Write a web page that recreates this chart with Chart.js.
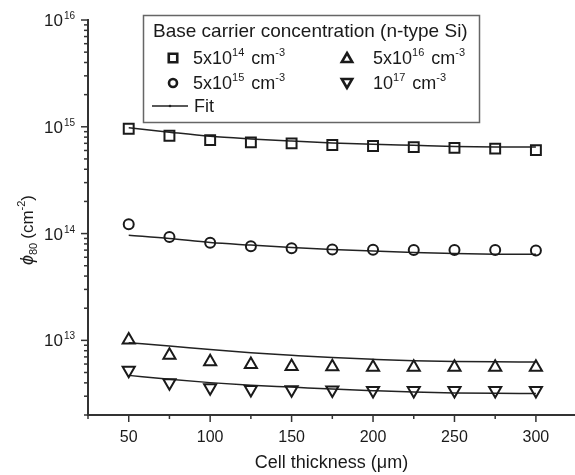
<!DOCTYPE html>
<html>
<head>
<meta charset="utf-8">
<script src="https://cdn.jsdelivr.net/npm/chart.js@4/dist/chart.umd.min.js"></script>
<style>
  html, body { margin: 0; padding: 0; background: #fff; }
  #wrap { width: 575px; height: 475px; }
</style>
</head>
<body>
<div id="wrap"><canvas id="phi-graph" width="575" height="475"></canvas></div>
<script>
// --< Data >--
const thickness = [50, 75, 100, 125, 150, 175, 200, 225, 250, 275, 300];

// measured phi80 (cm^-2) per base carrier concentration
const phi_5e14 = [9.6e14, 8.25e14, 7.5e14, 7.15e14, 7.0e14, 6.75e14, 6.6e14, 6.45e14, 6.35e14, 6.25e14, 6.05e14];
const phi_5e15 = [1.22e14, 9.3e13, 8.2e13, 7.6e13, 7.3e13, 7.1e13, 7.05e13, 7.0e13, 7.0e13, 7.0e13, 6.95e13];
const phi_5e16 = [1.01e13, 7.25e12, 6.3e12, 5.95e12, 5.7e12, 5.65e12, 5.6e12, 5.6e12, 5.6e12, 5.6e12, 5.6e12];
const phi_1e17 = [5.25e12, 4.0e12, 3.6e12, 3.47e12, 3.45e12, 3.42e12, 3.4e12, 3.4e12, 3.4e12, 3.4e12, 3.4e12];

// fit curves
const fit_5e14 = [9.8e14, 8.9e14, 8.15e14, 7.7e14, 7.35e14, 7.05e14, 6.85e14, 6.7e14, 6.55e14, 6.47e14, 6.45e14];
const fit_5e15 = [9.65e13, 9.0e13, 8.25e13, 7.8e13, 7.4e13, 7.1e13, 6.85e13, 6.65e13, 6.5e13, 6.42e13, 6.4e13];
const fit_5e16 = [9.5e12, 8.85e12, 8.2e12, 7.65e12, 7.25e12, 6.9e12, 6.65e12, 6.45e12, 6.35e12, 6.3e12, 6.28e12];
const fit_1e17 = [4.7e12, 4.32e12, 4.02e12, 3.8e12, 3.65e12, 3.5e12, 3.38e12, 3.28e12, 3.22e12, 3.19e12, 3.18e12];

// axes
const xTickValues = [25, 50, 75, 100, 125, 150, 175, 200, 225, 250, 275, 300];
const xTickLabels = [50, 100, 150, 200, 250, 300];
const yDecades = [12, 13, 14, 15, 16];
// --</ Data >--

const FONT = '"Liberation Sans", Arial, sans-serif';
const INK = '#1a1a1a';

const pts = (ys) => thickness.map((x, i) => ({ x: x, y: ys[i] }));

function markerSet(label, ys, style, radius, rotation) {
  return {
    label: label,
    data: pts(ys),
    showLine: false,
    pointStyle: style,
    pointRadius: radius,
    pointRotation: rotation || 0,
    pointBorderWidth: 2,
    pointBorderColor: INK,
    pointBackgroundColor: 'rgba(0,0,0,0)'
  };
}

function fitSet(ys) {
  return {
    label: 'Fit',
    data: pts(ys),
    showLine: true,
    borderColor: '#222',
    borderWidth: 1.5,
    cubicInterpolationMode: 'monotone',
    pointRadius: 0
  };
}

// --< Custom drawing: ticks, superscript labels, legend >--
function drawSup(ctx, x, y, parts) {
  // parts: [text, size, dy, gapAfter]
  for (const p of parts) {
    ctx.font = `${p[1]}px ${FONT}`;
    ctx.fillText(p[0], x, y + p[2]);
    x += ctx.measureText(p[0]).width + (p[3] || 0);
  }
  return x;
}

function partsWidth(ctx, parts) {
  let w = 0;
  for (const p of parts) { ctx.font = `${p[1]}px ${FONT}`; w += ctx.measureText(p[0]).width + (p[3] || 0); }
  return w;
}

const decor = {
  id: 'decor',
  afterDraw(chart) {
    const ctx = chart.ctx;
    const xs = chart.scales.x, ys = chart.scales.y;
    const area = chart.chartArea;
    ctx.save();
    ctx.strokeStyle = '#333';
    ctx.fillStyle = INK;
    ctx.lineWidth = 1.5;

    // x ticks
    for (const t of xs.ticks) {
      const px = xs.getPixelForValue(t.value);
      const len = (t.value % 50 === 0) ? 7 : 4;
      ctx.beginPath(); ctx.moveTo(px, area.bottom); ctx.lineTo(px, area.bottom + len); ctx.stroke();
    }
    // y ticks
    for (const t of ys.ticks) {
      const py = ys.getPixelForValue(t.value);
      const major = Math.abs(Math.log10(t.value) - Math.round(Math.log10(t.value))) < 1e-9;
      const len = major ? 7 : 4;
      ctx.beginPath(); ctx.moveTo(area.left - len, py); ctx.lineTo(area.left, py); ctx.stroke();
    }

    // y tick labels 10^n
    ctx.textBaseline = 'alphabetic';
    ctx.textAlign = 'left';
    for (const d of yDecades) {
      const v = Math.pow(10, d);
      if (v < ys.min || v > ys.max) continue;
      const py = ys.getPixelForValue(v);
      const parts = [['10', 17, 6, 1], [String(d), 10, -1]];
      const w = partsWidth(ctx, parts);
      drawSup(ctx, 75 - w, py, parts);
    }

    // y axis title: phi_80 (cm^-2)
    ctx.save();
    ctx.translate(33, 230);
    ctx.rotate(-Math.PI / 2);
    const tparts = [['80', 11, 4, 4], ['(cm', 17, 0], ['-2', 11, -8], [')', 17, 0]];
    ctx.font = `italic 18px ${FONT}`;
    const phiW = ctx.measureText('ϕ').width;
    const tw = phiW + partsWidth(ctx, tparts);
    let cx = -tw / 2;
    ctx.font = `italic 18px ${FONT}`;
    ctx.fillText('ϕ', cx, 0);
    drawSup(ctx, cx + phiW, 0, tparts);
    ctx.restore();

    // legend box
    ctx.strokeStyle = '#666';
    ctx.lineWidth = 1.5;
    ctx.strokeRect(143.5, 15.5, 336, 107);
    ctx.fillStyle = INK;
    ctx.font = `19px ${FONT}`;
    ctx.fillText('Base carrier concentration (n-type Si)', 153, 37);

    const entries = [
      { style: 'rect', r: 6, rot: 0, x: 173, y: 58, tx: 193, ty: 64, parts: [['5x10', 18, 0], ['14', 11, -8, 2], [' cm', 18, 0], ['-3', 11, -8]] },
      { style: 'circle', r: 4, rot: 0, x: 173, y: 83, tx: 193, ty: 89, parts: [['5x10', 18, 0], ['15', 11, -8, 2], [' cm', 18, 0], ['-3', 11, -8]] },
      { style: 'triangle', r: 6, rot: 0, x: 347, y: 59, tx: 373, ty: 64, parts: [['5x10', 18, 0], ['16', 11, -8, 2], [' cm', 18, 0], ['-3', 11, -8]] },
      { style: 'triangle', r: 6, rot: 180, x: 347, y: 82, tx: 373, ty: 89, parts: [['10', 18, 0], ['17', 11, -8, 2], [' cm', 18, 0], ['-3', 11, -8]] }
    ];
    for (const e of entries) {
      ctx.strokeStyle = INK;
      ctx.lineWidth = 2.6;
      ctx.fillStyle = 'rgba(0,0,0,0)';
      Chart.helpers.drawPoint(ctx, { pointStyle: e.style, radius: e.r, rotation: e.rot, borderWidth: 2.6 }, e.x, e.y);
      ctx.fillStyle = INK;
      drawSup(ctx, e.tx, e.ty, e.parts);
    }
    // Fit entry
    ctx.strokeStyle = '#222';
    ctx.lineWidth = 1.5;
    ctx.beginPath(); ctx.moveTo(152, 106); ctx.lineTo(188, 106); ctx.stroke();
    ctx.beginPath(); ctx.arc(170, 106, 1.3, 0, Math.PI * 2); ctx.fillStyle = '#222'; ctx.fill();
    ctx.fillStyle = INK;
    ctx.font = `18px ${FONT}`;
    ctx.fillText('Fit', 194, 112);

    ctx.restore();
  }
};
// --</ Custom drawing >--

new Chart(document.getElementById('phi-graph').getContext('2d'), {
  type: 'scatter',
  data: {
    datasets: [
      markerSet('5x10^14 cm^-3', phi_5e14, 'rect', 7),
      markerSet('5x10^15 cm^-3', phi_5e15, 'circle', 5),
      markerSet('5x10^16 cm^-3', phi_5e16, 'triangle', 7),
      markerSet('10^17 cm^-3', phi_1e17, 'triangle', 7, 180),
      fitSet(fit_5e14),
      fitSet(fit_5e15),
      fitSet(fit_5e16),
      fitSet(fit_1e17)
    ]
  },
  options: {
    responsive: false,
    animation: false,
    devicePixelRatio: 1,
    layout: { autoPadding: false, padding: { top: 20, right: 0, left: 0, bottom: 0 } },
    plugins: { legend: { display: false }, tooltip: { enabled: false } },
    scales: {
      x: {
        type: 'linear',
        min: 25,
        max: 324,
        afterBuildTicks: (s) => { s.ticks = xTickValues.map(v => ({ value: v })); },
        afterFit: (s) => { s.height = 60; s.paddingLeft = 0; s.paddingRight = 0; },
        grid: { display: false, drawTicks: false },
        border: { display: true, color: '#333', width: 2 },
        ticks: {
          padding: 13,
          color: INK,
          font: { family: FONT, size: 16 },
          maxRotation: 0,
          autoSkip: false,
          callback: (v) => xTickLabels.includes(v) ? String(v) : ''
        },
        title: {
          display: true,
          text: 'Cell thickness (μm)',
          color: INK,
          font: { family: FONT, size: 18 },
          padding: { top: 0, bottom: 1 }
        }
      },
      y: {
        type: 'logarithmic',
        min: 2e12,
        max: 1e16,
        afterBuildTicks: (s) => {
          const ticks = [];
          for (let e = 12; e <= 16; e++) {
            for (let m = 1; m <= 9; m++) {
              const v = m * Math.pow(10, e);
              if (v >= s.min * 0.999 && v <= s.max * 1.001) ticks.push({ value: v });
            }
          }
          s.ticks = ticks;
        },
        afterFit: (s) => { s.width = 88; s.paddingTop = 0; s.paddingBottom = 0; },
        grid: { display: false, drawTicks: false },
        border: { display: true, color: '#333', width: 2 },
        ticks: { display: false }
      }
    }
  },
  plugins: [decor]
});
</script>
</body>
</html>
